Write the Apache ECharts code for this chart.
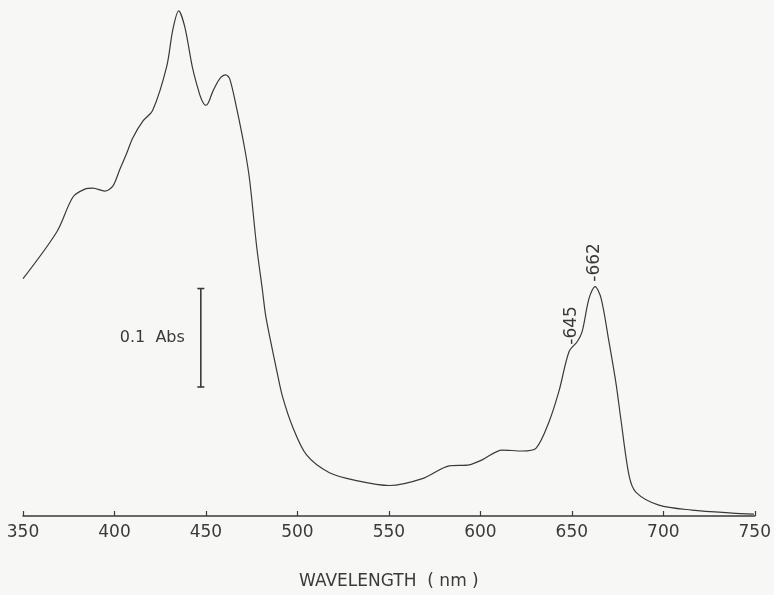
<!DOCTYPE html>
<html>
<head>
<meta charset="utf-8">
<script src="https://cdn.jsdelivr.net/npm/echarts@6/dist/echarts.min.js"></script>
<style>
  html, body { margin: 0; padding: 0; background: #f7f7f5; }
  #chart { width: 774px; height: 595px; }
</style>
</head>
<body>
<div id="chart"></div>
<script>
// 波长 (nm)
const wavelength = [350, 368.6, 377.3, 383.8, 388.2, 394.7, 399.1, 402.9, 406.8, 410, 415.5, 420.9, 428.6, 431.9, 435.1, 438.4, 442.8, 446.6, 448.4, 449.9, 451.4, 453.7, 457.5, 460.8, 463, 466.8, 471.1, 473.9, 477.7, 480.9, 482.6, 485.3, 489.1, 491.9, 497.3, 505, 517.5, 532.3, 550.3, 568.3, 583, 593.9, 601, 611.9, 622.8, 630.5, 637.6, 643, 648.5, 652.9, 655.6, 659.4, 662.7, 666, 670.3, 674.2, 676.9, 681.3, 685.1, 697.6, 715.6, 737.5, 749.5];
// 吸光度
const absorbance = [0.241, 0.289, 0.324, 0.332, 0.333, 0.330, 0.335, 0.352, 0.369, 0.384, 0.401, 0.412, 0.457, 0.494, 0.513, 0.497, 0.454, 0.428, 0.420, 0.417, 0.420, 0.431, 0.444, 0.448, 0.444, 0.414, 0.374, 0.341, 0.274, 0.229, 0.204, 0.178, 0.144, 0.121, 0.091, 0.062, 0.044, 0.036, 0.031, 0.038, 0.051, 0.052, 0.057, 0.067, 0.066, 0.069, 0.096, 0.127, 0.167, 0.177, 0.187, 0.221, 0.233, 0.221, 0.177, 0.134, 0.097, 0.041, 0.024, 0.011, 0.006, 0.003, 0.002];
// 峰值标注
const peakLabels = ['-645', '-662'];
const peakPos = [[650, 0.174], [662.7, 0.238]];
// 0.1 Abs 标尺
const scaleBar = [[447.2, 0.131], [447.2, 0.231]];
const xTicks = [350, 400, 450, 500, 550, 600, 650, 700, 750];

let font = 'DejaVu Sans';
let ink = '#3a3a3a';
let chart = echarts.init(document.getElementById('chart'));
let option = {
	backgroundColor: '#f7f7f5',
	animation: false,
	grid: {
		left: 23,
		right: 18,
		top: 4,
		bottom: 71
	},
	xAxis: {
		type: 'value',
		min: 350,
		max: 750,
		interval: 50,
		name: 'WAVELENGTH  ( nm )',
		nameLocation: 'middle',
		nameGap: 57,
		nameTextStyle: { color: ink, fontFamily: font, fontSize: 17 },
		axisLine: { lineStyle: { color: ink, width: 1.5 } },
		axisTick: { inside: true, length: 5, lineStyle: { color: ink, width: 1.2 } },
		axisLabel: {
			margin: 8,
			color: ink,
			fontFamily: font,
			fontSize: 17,
			formatter: function(v) { return xTicks.indexOf(v) >= 0 ? String(v) : ''; }
		},
		splitLine: { show: false }
	},
	yAxis: {
		type: 'value',
		min: 0,
		max: 0.52,
		show: false
	},
	series: [{
			name: 'spectrum',
			type: 'line',
			smooth: 0.3,
			showSymbol: false,
			data: wavelength.map(function(w, i) { return [w, absorbance[i]]; }),
			lineStyle: { color: ink, width: 1.2 }
		},
		{
			name: 'scale',
			type: 'line',
			data: scaleBar,
			symbol: 'rect',
			symbolSize: [7, 1.6],
			itemStyle: { color: ink },
			lineStyle: { color: ink, width: 1.6 }
		}
	]
};
chart.setOption(option);

// 文字标注
let texts = [];
peakLabels.forEach(function(t, i) {
	let p = chart.convertToPixel({ gridIndex: 0 }, peakPos[i]);
	texts.push({
		type: 'text',
		x: p[0],
		y: p[1],
		rotation: Math.PI / 2,
		style: { text: t, fill: ink, font: '17px "DejaVu Sans"', align: 'left', verticalAlign: 'middle' }
	});
});
let sb = chart.convertToPixel({ gridIndex: 0 }, [scaleBar[0][0], (scaleBar[0][1] + scaleBar[1][1]) / 2]);
texts.push({
	type: 'text',
	x: sb[0] - 16,
	y: sb[1],
	style: { text: '0.1  Abs', fill: ink, font: '16px "DejaVu Sans"', align: 'right', verticalAlign: 'middle' }
});
chart.setOption({ graphic: texts });
</script>
</body>
</html>
